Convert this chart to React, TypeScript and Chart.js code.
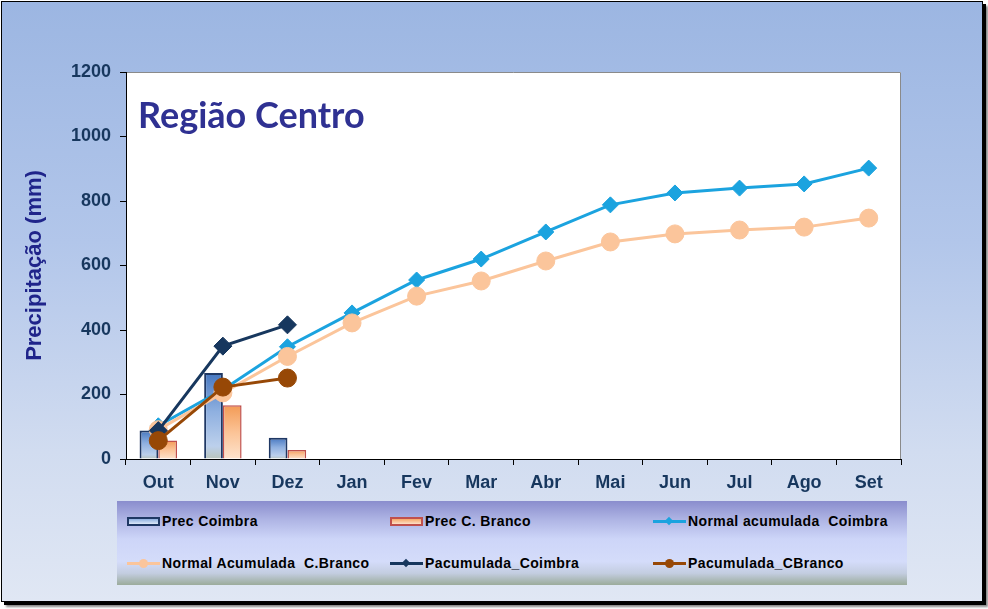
import React, { useEffect, useRef } from "react";
import { Chart, registerables } from "chart.js";

Chart.register(...registerables);

const categories = ["Out", "Nov", "Dez", "Jan", "Fev", "Mar", "Abr", "Mai", "Jun", "Jul", "Ago", "Set"];
const precCoimbra = [88, 267, 66, null, null, null, null, null, null, null, null, null];
const precCBranco = [57, 167, 28, null, null, null, null, null, null, null, null, null];
const normalCoimbra = [103, 215, 348, 453, 555, 620, 704, 788, 825, 840, 853, 902];
const normalCBranco = [91, 205, 318, 422, 505, 552, 614, 673, 698, 710, 719, 747];
const pacumCoimbra = [88, 350, 416, null, null, null, null, null, null, null, null, null];
const pacumCBranco = [57, 223, 251, null, null, null, null, null, null, null, null, null];
const yTicks = [0, 200, 400, 600, 800, 1000, 1200];

const chartTitle = "Região Centro";
const yAxisTitle = "Precipitação (mm)";

const C_NORM_COI = "#1ba3df";
const C_NORM_CB = "#fbc59b";
const C_PAC_COI = "#17375e";
const C_PAC_CB = "#974806";
const TICK_COLOR = "#17375e";

const blueStops: [number, string][] = [
  [0, "#4677c0"],
  [0.45, "#8fb0e0"],
  [0.85, "#bcd0ec"],
  [1, "#b9c4bc"],
];
const orangeStops: [number, string][] = [
  [0, "#f39a55"],
  [0.5, "#fbc396"],
  [1, "#fde3cd"],
];

function barGradient(stops: [number, string][]) {
  return (ctx: any) => {
    const chart = ctx.chart;
    const v = ctx.raw;
    const y = chart.scales && chart.scales.y;
    if (v == null || !y) return stops[1][1];
    const top = y.getPixelForValue(v);
    const bottom = y.getPixelForValue(0);
    if (!isFinite(top) || !isFinite(bottom)) return stops[1][1];
    const g = chart.ctx.createLinearGradient(0, top, 0, bottom);
    stops.forEach(([o, c]) => g.addColorStop(o, c));
    return g;
  };
}

const plotBg = {
  id: "plotBg",
  beforeDraw(chart: any) {
    const { ctx, chartArea: a } = chart;
    if (!a) return;
    ctx.save();
    ctx.fillStyle = "#ffffff";
    ctx.fillRect(a.left, a.top, a.right - a.left, a.bottom - a.top);
    ctx.strokeStyle = "#8a8a8a";
    ctx.lineWidth = 1;
    ctx.beginPath();
    ctx.moveTo(a.left, a.top + 0.5);
    ctx.lineTo(a.right - 0.5, a.top + 0.5);
    ctx.lineTo(a.right - 0.5, a.bottom);
    ctx.stroke();
    ctx.restore();
  },
};

const FONT = "'Liberation Sans', Arial, sans-serif";

type LegendItem = {
  label: string;
  kind: "bar" | "line";
  color: string;
  border?: string;
  fill?: string;
  marker?: "diamond" | "circle";
};

const legendRows: LegendItem[][] = [
  [
    { label: "Prec Coimbra", kind: "bar", color: "#1f3864", border: "#1f3864", fill: "linear-gradient(#8fb0e0, #dce8f8)" },
    { label: "Prec C. Branco", kind: "bar", color: "#c0504d", border: "#c0504d", fill: "linear-gradient(#f7a868, #fde0c8)" },
    { label: "Normal acumulada  Coimbra", kind: "line", color: C_NORM_COI, marker: "diamond" },
  ],
  [
    { label: "Normal Acumulada  C.Branco", kind: "line", color: C_NORM_CB, marker: "circle" },
    { label: "Pacumulada_Coimbra", kind: "line", color: C_PAC_COI, marker: "diamond" },
    { label: "Pacumulada_CBranco", kind: "line", color: C_PAC_CB, marker: "circle" },
  ],
];

const colLefts = [10, 273, 536];
const rowCenters = [20, 62];

function Symbol({ item }: { item: LegendItem }) {
  if (item.kind === "bar") {
    return (
      <div
        style={{
          width: 33,
          height: 9,
          boxSizing: "border-box",
          border: `2px solid ${item.border}`,
          background: item.fill,
        }}
      />
    );
  }
  return (
    <div style={{ position: "relative", width: 33, height: 10 }}>
      <div style={{ position: "absolute", left: 0, top: 4, width: 33, height: 3, background: item.color }} />
      {item.marker === "diamond" ? (
        <div
          style={{
            position: "absolute",
            left: 13,
            top: 2,
            width: 6,
            height: 6,
            background: item.color,
            transform: "rotate(45deg)",
          }}
        />
      ) : (
        <div
          style={{
            position: "absolute",
            left: 12,
            top: 1,
            width: 9,
            height: 9,
            borderRadius: "50%",
            background: item.color,
          }}
        />
      )}
    </div>
  );
}

function Legend() {
  return (
    <div
      style={{
        position: "absolute",
        left: 117,
        top: 501,
        width: 790,
        height: 84,
        background:
          "linear-gradient(to bottom, #8a8dcd 0%, #aeb4e4 22%, #cdd5f8 45%, #d4dcfa 72%, #c3cde0 86%, #9bab9b 100%)",
      }}
    >
      {legendRows.map((row, ri) =>
        row.map((item, ci) => (
          <div
            key={`${ri}-${ci}`}
            style={{
              position: "absolute",
              left: colLefts[ci],
              top: rowCenters[ri] - 10,
              height: 20,
              display: "flex",
              alignItems: "center",
            }}
          >
            <Symbol item={item} />
            <span
              style={{
                marginLeft: 2,
                fontFamily: FONT,
                fontWeight: "bold",
                fontSize: 14,
                letterSpacing: 0.4,
                color: "#000",
                whiteSpace: "pre",
              }}
            >
              {item.label}
            </span>
          </div>
        ))
      )}
    </div>
  );
}

export default function App() {
  const canvasRef = useRef<HTMLCanvasElement | null>(null);

  useEffect(() => {
    const canvas = canvasRef.current;
    if (!canvas) return;
    const chart = new Chart(canvas, {
      type: "bar",
      data: {
        labels: categories,
        datasets: [
          {
            type: "bar",
            label: "Prec Coimbra",
            data: precCoimbra,
            backgroundColor: barGradient(blueStops),
            borderColor: "#1f3864",
            borderWidth: 2,
            categoryPercentage: 0.58,
            barPercentage: 1,
            order: 10,
          } as any,
          {
            type: "bar",
            label: "Prec C. Branco",
            data: precCBranco,
            backgroundColor: barGradient(orangeStops),
            borderColor: "#c0504d",
            borderWidth: 1.5,
            categoryPercentage: 0.58,
            barPercentage: 1,
            order: 10,
          } as any,
          {
            type: "line",
            label: "Normal acumulada  Coimbra",
            data: normalCoimbra,
            borderColor: C_NORM_COI,
            backgroundColor: C_NORM_COI,
            borderWidth: 3,
            pointStyle: "rectRot",
            pointRadius: 8,
            pointBorderWidth: 1,
            pointBackgroundColor: C_NORM_COI,
            pointBorderColor: C_NORM_COI,
            tension: 0,
            order: 5,
          } as any,
          {
            type: "line",
            label: "Normal Acumulada  C.Branco",
            data: normalCBranco,
            borderColor: C_NORM_CB,
            backgroundColor: C_NORM_CB,
            borderWidth: 3,
            pointStyle: "circle",
            pointRadius: 9,
            pointBorderWidth: 1,
            pointBackgroundColor: C_NORM_CB,
            pointBorderColor: C_NORM_CB,
            tension: 0,
            order: 4,
          } as any,
          {
            type: "line",
            label: "Pacumulada_Coimbra",
            data: pacumCoimbra,
            borderColor: C_PAC_COI,
            backgroundColor: C_PAC_COI,
            borderWidth: 3,
            pointStyle: "rectRot",
            pointRadius: 9,
            pointBorderWidth: 1,
            pointBackgroundColor: C_PAC_COI,
            pointBorderColor: C_PAC_COI,
            spanGaps: false,
            tension: 0,
            order: 3,
          } as any,
          {
            type: "line",
            label: "Pacumulada_CBranco",
            data: pacumCBranco,
            borderColor: C_PAC_CB,
            backgroundColor: C_PAC_CB,
            borderWidth: 3,
            pointStyle: "circle",
            pointRadius: 9,
            pointBorderWidth: 1,
            pointBackgroundColor: C_PAC_CB,
            pointBorderColor: C_PAC_CB,
            spanGaps: false,
            tension: 0,
            order: 2,
          } as any,
        ],
      },
      options: {
        animation: false,
        responsive: false,
        maintainAspectRatio: false,
        layout: { padding: { left: 0, right: 87, top: 72, bottom: 110 } },
        plugins: {
          legend: { display: false },
          tooltip: { enabled: false },
          title: { display: false },
        },
        scales: {
          x: {
            offset: true,
            grid: {
              display: true,
              drawOnChartArea: false,
              offset: true,
              tickLength: 6,
              color: "#000",
              lineWidth: 1,
            },
            border: { display: true, color: "#000", width: 1 },
            ticks: {
              color: TICK_COLOR,
              font: { family: FONT, size: 18, weight: "bold" },
              padding: 7,
              maxRotation: 0,
              autoSkip: false,
            },
            afterFit: (s: any) => {
              s.height = 40;
            },
          },
          y: {
            min: 0,
            max: 1200,
            afterBuildTicks: (s: any) => {
              s.ticks = yTicks.map((v) => ({ value: v }));
            },
            grid: {
              display: true,
              drawOnChartArea: false,
              tickLength: 6,
              color: "#000",
              lineWidth: 1,
            },
            border: { display: true, color: "#000", width: 1 },
            ticks: {
              color: TICK_COLOR,
              font: { family: FONT, size: 18, weight: "bold" },
              padding: 9,
              callback: (v: any) => String(v),
            },
            title: {
              display: true,
              text: yAxisTitle,
              color: "#1f248a",
              font: { family: FONT, size: 22, weight: "bold" },
              padding: { top: 22, bottom: 0 },
            },
            afterFit: (s: any) => {
              s.width = 126;
            },
          },
        },
      } as any,
      plugins: [plotBg],
    });
    return () => chart.destroy();
  }, []);

  return (
    <div
      style={{
        position: "absolute",
        left: 0,
        top: 0,
        width: 988,
        height: 609,
        background: "#ffffff",
        overflow: "hidden",
      }}
    >
      <div
        style={{
          position: "absolute",
          left: 1,
          top: 1,
          width: 982,
          height: 601,
          boxSizing: "border-box",
          border: "1px solid #000",
          boxShadow: "3px 3px 0 #000, 5px 5px 2px #888",
          background:
            "linear-gradient(to bottom, #9cb6e2 0%, #b2c6ea 40%, #d1dcf0 75%, #e0e7f4 100%)",
        }}
      />
      <canvas
        ref={canvasRef}
        width={988}
        height={609}
        style={{ position: "absolute", left: 0, top: 0, width: 988, height: 609 }}
      />
      <div
        style={{
          position: "absolute",
          left: 138,
          top: 92,
          fontFamily: "Lato, 'Open Sans', sans-serif",
          fontWeight: 700,
          fontSize: 36,
          lineHeight: "44px",
          color: "#2f3192",
          whiteSpace: "nowrap",
        }}
      >
        {chartTitle}
      </div>
      <Legend />
    </div>
  );
}
